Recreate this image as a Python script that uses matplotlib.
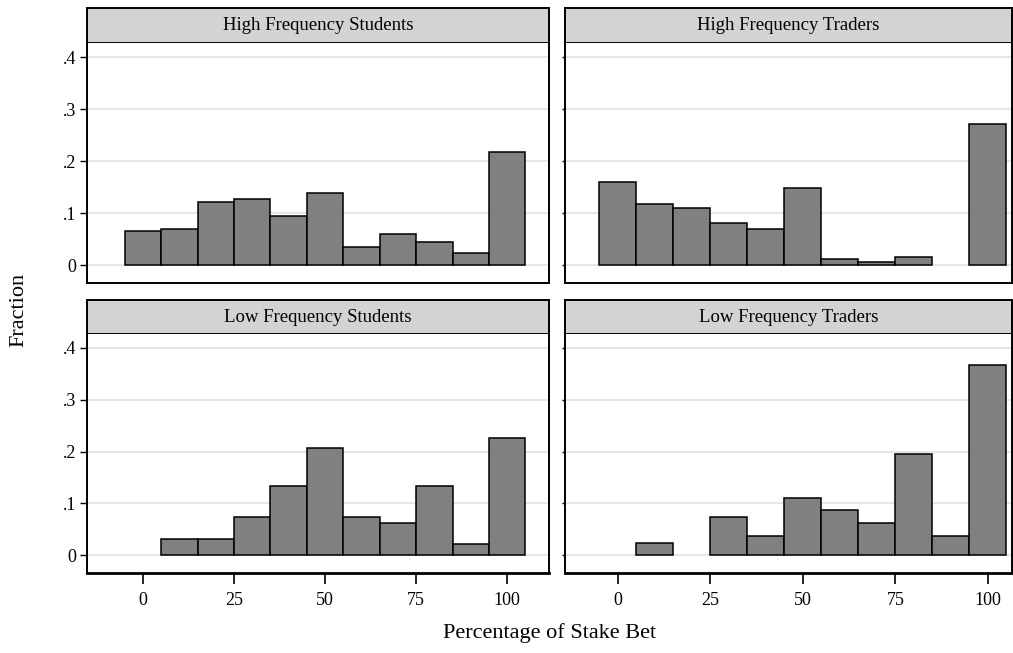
import numpy as np
import matplotlib
matplotlib.use("Agg")
import matplotlib.pyplot as plt

# bin centres (percentage of stake bet), width 10
bins = [0, 10, 20, 30, 40, 50, 60, 70, 80, 90, 100]

panel_titles = ["High Frequency Students", "High Frequency Traders",
                "Low Frequency Students", "Low Frequency Traders"]

hf_students = [0.066, 0.069, 0.121, 0.127, 0.094, 0.138, 0.035, 0.059, 0.045, 0.024, 0.217]
hf_traders = [0.159, 0.117, 0.110, 0.080, 0.069, 0.148, 0.011, 0.0065, 0.0145, 0.0, 0.271]
lf_students = [0.0, 0.032, 0.032, 0.073, 0.134, 0.206, 0.073, 0.062, 0.134, 0.021, 0.227]
lf_traders = [0.0, 0.024, 0.0, 0.073, 0.036, 0.110, 0.087, 0.062, 0.196, 0.036, 0.367]

yticks = [0, 0.1, 0.2, 0.3, 0.4]
ytick_labels = ["0", ".1", ".2", ".3", ".4"]
xticks = [0, 25, 50, 75, 100]

plt.rcParams['font.family'] = ['Liberation Serif', 'DejaVu Serif']

W, H = 1013, 653
fig = plt.figure(figsize=(W / 100, H / 100), dpi=100)

def fbox(x0, y0, x1, y1):
    # pixel box (top-left origin) -> figure fraction rect
    return [x0 / W, 1 - y1 / H, (x1 - x0) / W, (y1 - y0) / H]

cols = [(87, 549, (-15.4, 111.5)), (565, 1012, (-14.3, 106.5))]
rows = [(8, 43, 283), (300, 334, 573)]
data = [[hf_students, hf_traders], [lf_students, lf_traders]]

for r, (s0, s1, p1) in enumerate(rows):
    for c, (x0, x1, xlim) in enumerate(cols):
        title = panel_titles[r * 2 + c]
        vals = np.array(data[r][c])
        centres = np.array(bins)
        keep = vals > 0

        sax = fig.add_axes(fbox(x0, s0, x1, s1))
        sax.set_facecolor("#d3d3d3")
        sax.set_xticks([])
        sax.set_yticks([])
        for sp in sax.spines.values():
            sp.set_linewidth(1.4)
        sax.text(0.5, 0.5, title, ha="center", va="center", fontsize=13.5,
                 transform=sax.transAxes)

        ax = fig.add_axes(fbox(x0, s1, x1, p1))
        ax.set_xlim(*xlim)
        ax.set_ylim(-0.0346, 0.427)
        for y in yticks:
            ax.axhline(y, color="#e1e1e1", lw=1.2, zorder=0)
        ax.bar(centres[keep], vals[keep], width=10, color="#808080",
               edgecolor="black", linewidth=1.1, zorder=2)
        for sp in ax.spines.values():
            sp.set_linewidth(1.4)
        ax.spines["top"].set_visible(False)

        ax.set_yticks(yticks)
        if c == 0:
            ax.set_yticklabels(ytick_labels, fontsize=13)
            ax.tick_params(axis="y", length=5, width=1, pad=3)
        else:
            ax.set_yticklabels([])
            ax.tick_params(axis="y", length=2, width=1)

        ax.set_xticks(xticks)
        if r == 1:
            ax.set_xticklabels([str(t) for t in xticks], fontsize=13)
            ax.tick_params(axis="x", length=8, width=1.2, pad=6)
            ax.spines["bottom"].set_linewidth(2)
        else:
            ax.tick_params(axis="x", length=0, labelbottom=False)

fig.text(550 / W, 1 - 633 / H, "Percentage of Stake Bet", ha="center",
         va="center", fontsize=16)
fig.text(19 / W, 1 - 310 / H, "Fraction", ha="center", va="center",
         rotation=90, fontsize=16)

fig.savefig("out.png", dpi=100)
